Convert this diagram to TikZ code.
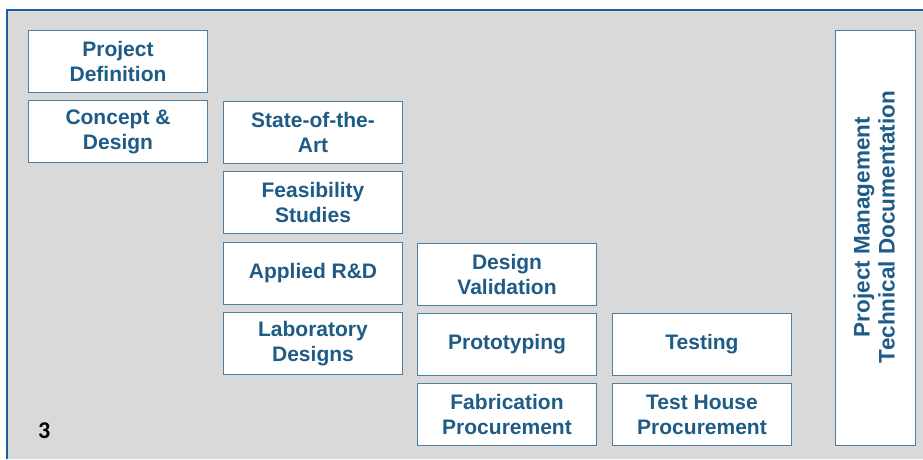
\documentclass[tikz,border=0pt]{standalone}
\usepackage{fontspec}
\setmainfont{Liberation Sans}
\newfontfamily\calib{Carlito}
\definecolor{panelgrey}{HTML}{D9D9D9}
\definecolor{edgeblue}{HTML}{1A5EA0}
\definecolor{boxedge}{HTML}{4E7EA0}
\definecolor{txtblue}{HTML}{1E5C87}
\begin{document}
\begin{tikzpicture}[x=1pt,y=-1pt,
  stagebox/.style={draw=boxedge,line width=1pt,fill=white,text=txtblue,
    font=\fontsize{21}{25}\selectfont\bfseries,align=center,
    minimum width=179pt,minimum height=62pt,inner sep=0pt,anchor=north west},
  sidebox/.style={draw=boxedge,line width=1pt,fill=white,anchor=north west,
    minimum width=80pt,minimum height=415pt,inner sep=0pt}]
\useasboundingbox (0,0) rectangle (923,459);
\fill[panelgrey] (7,10) rectangle (923,459);
\draw[edgeblue,line width=2.8pt] (7,459) -- (7,10) -- (923,10);
\node[stagebox] (pd) at (28,30) {Project\\Definition};
\node[stagebox] (cd) at (28,100) {Concept \&\\Design};
\node[stagebox] (sa) at (223,101) {State-of-the-\\Art};
\node[stagebox] (fs) at (223,171) {Feasibility\\Studies};
\node[stagebox] (ar) at (223,242) {Applied R\&D};
\node[stagebox] (ld) at (223,312) {Laboratory\\Designs};
\node[stagebox] (dv) at (417,243) {Design\\Validation};
\node[stagebox] (pr) at (417,313) {Prototyping};
\node[stagebox] (fp) at (417,383) {Fabrication\\Procurement};
\node[stagebox] (te) at (612,313) {Testing};
\node[stagebox] (th) at (612,383) {Test House\\Procurement};
\node[sidebox] (pm) at (835,30) {};
\node[rotate=90,text=txtblue,font=\fontsize{22.5}{25}\selectfont\bfseries,align=center] (pmt) at (874,227) {Project Management\\Technical Documentation};
\node[font=\calib\bfseries\fontsize{24}{28}\selectfont,anchor=south west,inner sep=0pt] (num) at (38,438.5) {3};
\end{tikzpicture}
\end{document}
